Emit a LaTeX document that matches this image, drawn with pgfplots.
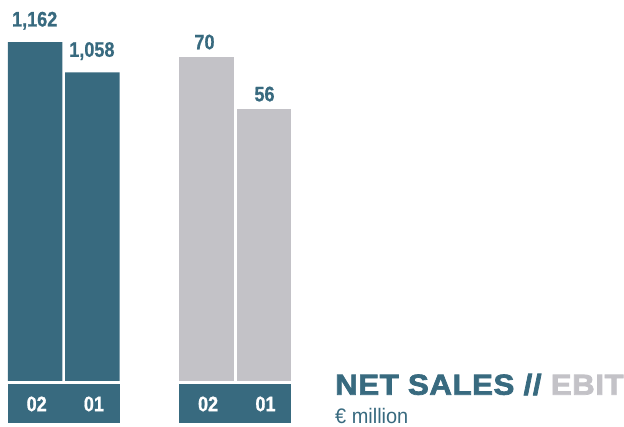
\documentclass[border=0pt]{standalone}
\usepackage{pgfplots}
\pgfplotsset{compat=1.18}
\usepackage{fontspec}
\setmainfont{Liberation Sans}
\newfontfamily\condbold[FakeStretch=0.86,FakeBold=0.8]{Liberation Sans Bold}
\newfontfamily\wideblack[FakeStretch=1.08,FakeBold=2.5,LetterSpace=2]{Liberation Sans Bold}
\newfontfamily\plainfont[FakeStretch=0.95]{Liberation Sans}
\definecolor{teal1}{HTML}{386A7F}
\definecolor{gray1}{HTML}{C3C2C7}
\begin{document}
\begin{tikzpicture}[x=1pt,y=1pt]
\path[use as bounding box] (0,0) rectangle (624,427);
% bottom bands
\fill[teal1] (8,4.3) rectangle (120,43.3);
\fill[teal1] (179.3,4.3) rectangle (291.3,43.3);
% NET SALES axis
\begin{axis}[at={(0pt,46pt)}, anchor=south west, scale only axis,
  width=624pt, height=381pt, xmin=0, xmax=624, ymin=0, ymax=1306.6,
  axis line style={draw=none}, major tick length=0pt, ytick=\empty,
  xtick={35.2,92.4,206.6,264}, xticklabels={02,01,02,01},
  xticklabel style={text=white, font=\condbold\fontsize{21}{21}\selectfont, anchor=center, yshift=-23pt, xshift=1.5pt},
  /pgf/number format/assume math mode=true,
  /pgf/number format/1000 sep={,},
  clip=false]
\addplot[ybar, bar shift=0pt, bar width=54.5, fill=teal1, draw=none,
  nodes near coords,
  every node near coord/.style={anchor=base, inner sep=0pt, yshift=15.7pt, xshift=-0.5pt, text=teal1, font=\condbold\fontsize{21}{21}\selectfont}]
  coordinates {(35.2,1162) (92.4,1058)};
\end{axis}
% EBIT axis
\begin{axis}[at={(0pt,46pt)}, anchor=south west, scale only axis,
  width=624pt, height=381pt, xmin=0, xmax=624, ymin=-17.23, ymax=85.35,
  axis line style={draw=none}, major tick length=0pt, ytick=\empty, xtick=\empty,
  /pgf/number format/assume math mode=true]
\addplot[fill=gray1, draw=none] coordinates {(179.35,-20) (179.35,70) (233.85,70) (233.85,-20)} -- cycle;
\addplot[fill=gray1, draw=none] coordinates {(236.75,-20) (236.75,56) (291.25,56) (291.25,-20)} -- cycle;
\addplot[draw=none, mark=none, nodes near coords,
  every node near coord/.style={anchor=base, inner sep=0pt, yshift=7.7pt, text=teal1, font=\condbold\fontsize{21}{21}\selectfont}]
  coordinates {(204.5,70) (264.5,56)};
\end{axis}
% title
\node[anchor=base west, inner sep=0pt] at (335,32.3)
  {\wideblack\fontsize{28.9}{30}\selectfont\textcolor{teal1}{NET SALES //} \textcolor{gray1}{EBIT}};
\node[anchor=base west, inner sep=0pt, text=teal1] at (335,3.7)
  {\plainfont\fontsize{21}{22}\selectfont € million};
\end{tikzpicture}
\end{document}
